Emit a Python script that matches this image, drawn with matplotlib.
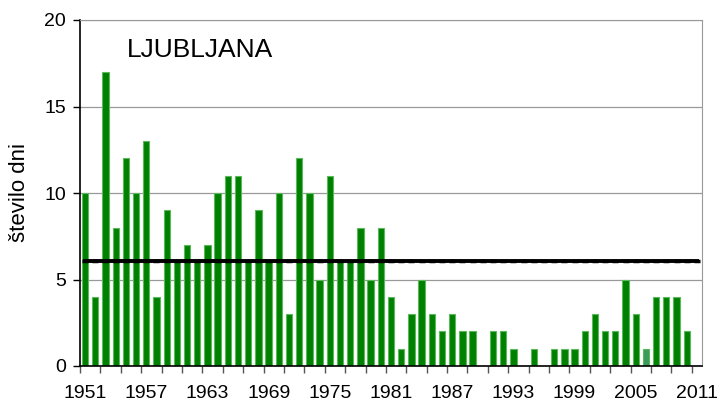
import matplotlib
matplotlib.use("Agg")
import matplotlib.pyplot as plt
import numpy as np

plt.rcParams['font.family'] = ['Liberation Sans', 'DejaVu Sans']

# podatki: število dni na leto, Ljubljana
years = list(range(1951, 2012))
days = [10, 4, 17, 8, 12, 10, 13, 4, 9, 6,
        7, 6, 7, 10, 11, 11, 6, 9, 6, 10,
        3, 12, 10, 5, 11, 6, 6, 8, 5, 8,
        4, 1, 3, 5, 3, 2, 3, 2, 2, 0,
        2, 2, 1, 0, 1, 0, 1, 1, 1, 2,
        3, 2, 2, 5, 3, 1, 4, 4, 4, 2,
        0]
highlight_year = 2006
ref_period = (1961, 1990)
yticks = [0, 5, 10, 15, 20]

x = np.arange(len(years))
mean_ref = np.mean([d for y, d in zip(years, days) if ref_period[0] <= y <= ref_period[1]])

fig = plt.figure(figsize=(7.2, 4.03), dpi=100)
ax = fig.add_axes([80 / 720, 1 - 366 / 403, 622 / 720, 346 / 403])

colors = ['#3a9a5c' if y == highlight_year else '#008000' for y in years]
ax.bar(x, days, width=0.62, color=colors, edgecolor='#5cb85c', linewidth=0.8, zorder=2)
ax.plot(x, [mean_ref] * len(x), color='black', lw=2.8, marker='_', ms=5, mew=2.5, zorder=3)

ax.set_xlim(-0.5, len(years) - 0.5)
ax.set_ylim(0, 20)
ax.set_yticks(yticks)
ax.yaxis.grid(True, color='#999999', lw=0.9, zorder=0)

# kljukice vsaki 2 leti, oznake vsakih 6 let
ax.set_xticks(np.arange(-0.5, len(years), 2), minor=True)
ax.set_xticks(x[::6])
ax.set_xticklabels([str(y) for y in years[::6]])
ax.tick_params(axis='x', which='major', length=0, labelsize=14, pad=14)
ax.tick_params(axis='x', which='minor', length=5, width=1, color='#555555')
ax.tick_params(axis='y', length=5, width=1, labelsize=14, pad=5)

for s in ['top', 'right']:
    ax.spines[s].set_color('#999999')
for s in ['left', 'bottom']:
    ax.spines[s].set_color('black')
    ax.spines[s].set_linewidth(1.2)

ax.set_ylabel('število dni', fontsize=16, labelpad=10)
ax.text(0.076, 0.893, 'LJUBLJANA', transform=ax.transAxes, fontsize=19, va='baseline')

fig.savefig('out.png', dpi=100)
